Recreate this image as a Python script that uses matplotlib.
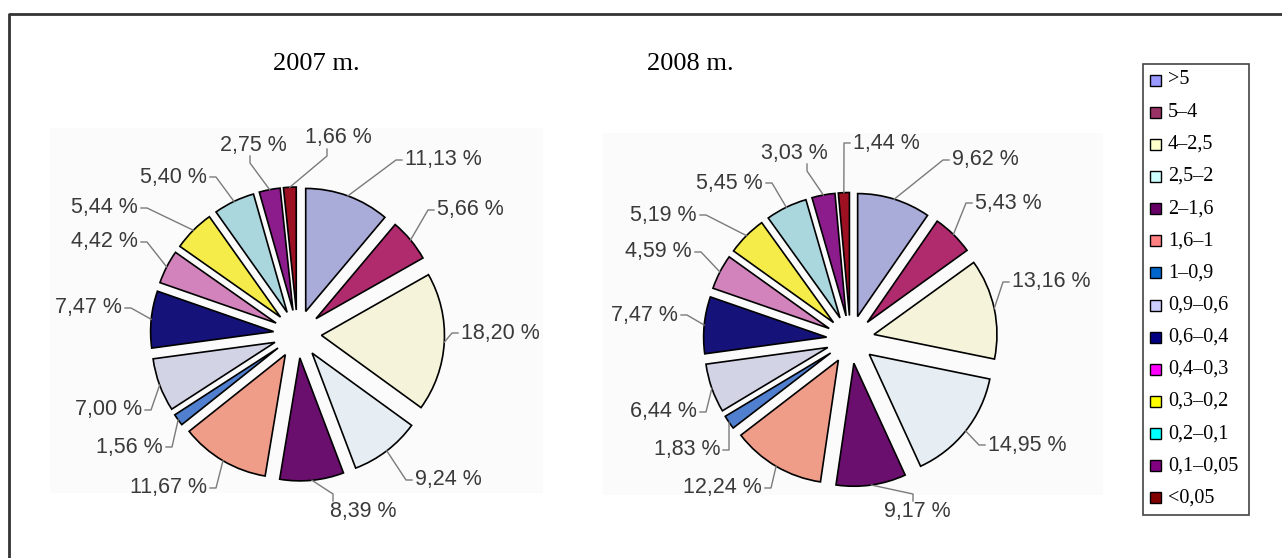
import numpy as np
import matplotlib
matplotlib.use("Agg")
import matplotlib.pyplot as plt
from matplotlib.patches import Rectangle

# ---- data -------------------------------------------------------------
categories = [">5", "5–4", "4–2,5", "2,5–2", "2–1,6", "1,6–1", "1–0,9",
              "0,9–0,6", "0,6–0,4", "0,4–0,3", "0,3–0,2", "0,2–0,1",
              "0,1–0,05", "<0,05"]
shares_2007 = [11.13, 5.66, 18.20, 9.24, 8.39, 11.67, 1.56,
               7.00, 7.47, 4.42, 5.44, 5.40, 2.75, 1.66]
shares_2008 = [9.62, 5.43, 13.16, 14.95, 9.17, 12.24, 1.83,
               6.44, 7.47, 4.59, 5.19, 5.45, 3.03, 1.44]
titles = ["2007 m.", "2008 m."]

# ---- styles -----------------------------------------------------------
pie_colors = ["#A9ABD9", "#B02A6E", "#F5F4DA", "#E6EEF3", "#6B0F6F",
              "#EF9C88", "#4F7FCE", "#D2D4E6", "#15137A", "#D383BC",
              "#F5EC4A", "#AAD6DE", "#8C1C8C", "#9C1022"]
legend_colors = ["#9999FF", "#993366", "#FFFFCC", "#CCFFFF", "#660066",
                 "#FF8080", "#0066CC", "#CCCCFF", "#000080", "#FF00FF",
                 "#FFFF00", "#00FFFF", "#800080", "#800000"]

W, H = 1282, 558
R = 123          # pie radius in pixels
EXPLODE = 24     # radial offset of every slice in pixels

# label placement around each pie (pixel offsets from the pie centre, y up)
layout_2007 = [(107.5, 174, "l"), (139.5, 124, "l"), (163.5, 1, "l"),
               (117.5, -146, "l"), (65.5, -178, "b", -30), (-90.5, -154, "r"),
               (-134.5, -113, "r"), (-155.5, -76, "r"), (-175.5, 26, "r"),
               (-159.5, 92, "r"), (-159.5, 126, "r"), (-90.5, 157, "r"),
               (-44.5, 189, "t", -3), (40.5, 196, "t", -11)]
layout_2008 = [(101.5, 179.5, "l"), (124.5, 136.5, "l"), (161.5, 57.5, "l"),
               (137.5, -105.5, "l"), (66.5, -172.5, "b", -4), (-88.5, -148.5, "r"),
               (-130.5, -110.5, "r"), (-153.5, -72.5, "r"), (-172.5, 24.5, "r"),
               (-158.5, 87.5, "r"), (-153.5, 124.5, "r"), (-87.5, 156.5, "r"),
               (-56.5, 186.5, "t", 13), (2.5, 196.5, "l")]

fig = plt.figure(figsize=(W / 100, H / 100), dpi=100)
fig.patch.set_facecolor("white")

# background layer in pixel coordinates (y down)
bg = fig.add_axes([0, 0, 1, 1])
bg.set_xlim(0, W)
bg.set_ylim(H, 0)
bg.axis("off")

# frame around the block
bg.plot([9, 9, W], [H, 14, 14], color="#333333", lw=2, solid_capstyle="butt")

# faint panels behind the pies
bg.add_patch(Rectangle((50, 128), 493, 365, facecolor="#FBFBFB", edgecolor="none"))
bg.add_patch(Rectangle((603, 133), 500, 362, facecolor="#FBFBFB", edgecolor="none"))

# titles
for t, x in zip(titles, [316, 690]):
    bg.text(x, 64, t, fontsize=19, family="Liberation Serif",
            ha="center", va="center", color="black")

# legend
bg.add_patch(Rectangle((1143, 64), 106, 451, facecolor="white",
                       edgecolor="#444444", lw=1.2))
for i, (cat, col) in enumerate(zip(categories, legend_colors)):
    y = 80 + i * 32.15
    bg.add_patch(Rectangle((1149.5, y - 5.5), 11, 11, facecolor=col,
                           edgecolor="black", lw=1.0))
    bg.text(1168, y, cat, fontsize=14.5, family="Liberation Serif",
            ha="left", va="center", color="black")


def draw_pie(cx, cy, values, layout, box):
    x0, y0, x1, y1 = box
    ax = fig.add_axes([x0 / W, (H - y1) / H, (x1 - x0) / W, (y1 - y0) / H])
    wedges, _ = ax.pie(values, colors=pie_colors, startangle=90,
                       counterclock=False, radius=R,
                       explode=[EXPLODE] * len(values),
                       wedgeprops=dict(edgecolor="black", linewidth=1.2))
    ax.set_aspect("auto")
    ax.set_xlim(x0 - cx, x1 - cx)
    ax.set_ylim(cy - y1, cy - y0)
    ax.axis("off")
    ax.patch.set_alpha(0)

    for v, w, spec in zip(values, wedges, layout):
        lx, ly, side = spec[:3]
        off = spec[3] if len(spec) > 3 else 0
        tm = np.deg2rad((w.theta1 + w.theta2) / 2)
        wx, wy = w.center
        px, py = wx + R * np.cos(tm), wy + R * np.sin(tm)
        label = f"{v:.2f} %".replace(".", ",")
        if side == "l":
            ha = "left"
            pts = [(px, py), (lx - 9, ly), (lx - 3, ly)]
        elif side == "r":
            ha = "right"
            pts = [(px, py), (lx + 9, ly), (lx + 3, ly)]
        elif side == "t":
            ha = "center"
            pts = [(px, py), (lx + off, ly - 18), (lx + off, ly - 11)]
        else:
            ha = "center"
            pts = [(px, py), (lx + off, ly + 18), (lx + off, ly + 11)]
        xs, ys = zip(*pts)
        ax.plot(xs, ys, color="#7A7A7A", lw=1.0, zorder=1)
        ax.text(lx, ly, label, fontsize=15.5, family="Liberation Sans",
                ha=ha, va="center", color="#3A3A3A")


draw_pie(297.5, 334, shares_2007, layout_2007, (40, 100, 560, 540))
draw_pie(850.5, 339.5, shares_2008, layout_2008, (595, 100, 1120, 540))

fig.savefig("out.png", dpi=100)
